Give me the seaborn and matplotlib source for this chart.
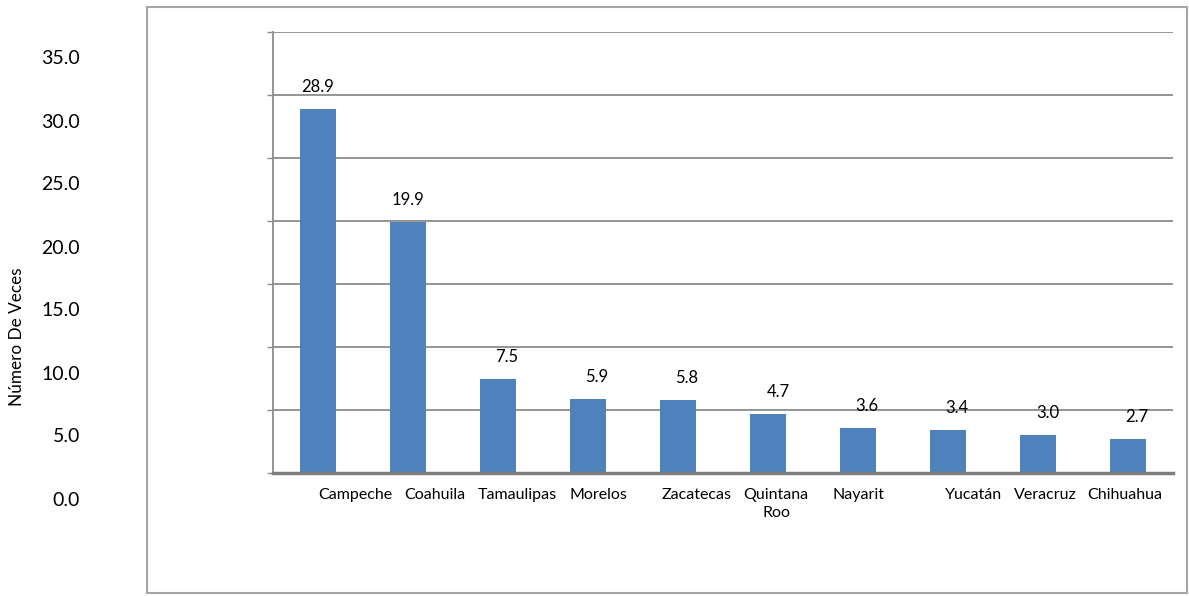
import matplotlib
matplotlib.use("Agg")
import matplotlib.pyplot as plt
from matplotlib.patches import Rectangle
import seaborn as sns
import pandas as pd

# Data
estados = ["Campeche", "Coahuila", "Tamaulipas", "Morelos", "Zacatecas",
           "Quintana\nRoo", "Nayarit", "Yucatán", "Veracruz", "Chihuahua"]
valores = [28.9, 19.9, 7.5, 5.9, 5.8, 4.7, 3.6, 3.4, 3.0, 2.7]
y_ticks = [0, 5, 10, 15, 20, 25, 30, 35]
y_tick_labels = ["0.0", "5.0", "10.0", "15.0", "20.0", "25.0", "30.0", "35.0"]
y_title = "Número De Veces"

# Horizontal nudges (pixels) for category names and value labels
name_dx = [37, 27, 19, 10, 19, 8, 1, 26, 7, -3]
value_dx = [0, 0, 9, 9, 9, 10, 9, 9, 10, 9]

sns.set_theme(style="white")
plt.rcParams["font.family"] = ["Lato", "DejaVu Sans"]

W, H, DPI = 1189, 596, 100
fig = plt.figure(figsize=(W / DPI, H / DPI), dpi=DPI)
fig.patch.set_facecolor("white")

# Plot area
left, right, top, bottom = 273, 1173, 32, 473
ax = fig.add_axes([left / W, 1 - bottom / H, (right - left) / W, (bottom - top) / H])

df = pd.DataFrame({"estado": estados, "valor": valores})
sns.barplot(data=df, x="estado", y="valor", color="#4F81BD", saturation=1,
            width=0.4, linewidth=0, ax=ax)

ax.set_ylim(0, 35)
ax.set_xlim(-0.5, len(estados) - 0.5)
ax.set_yticks(y_ticks)
ax.set_xlabel("")
ax.set_ylabel("")
ax.yaxis.grid(True, color="#8c8c8c", linewidth=1.3)
ax.set_axisbelow(True)
ax.tick_params(axis="y", length=4.5, width=1, color="#8c8c8c", direction="out",
               labelleft=False, left=True)
ax.tick_params(axis="x", length=0, labelbottom=False)

for side in ("top", "right"):
    ax.spines[side].set_visible(False)
ax.spines["left"].set_color("#8c8c8c")
ax.spines["left"].set_linewidth(1.3)
ax.spines["bottom"].set_color("#7f7f7f")
ax.spines["bottom"].set_linewidth(2.5)

# Value labels above bars
for i, v in enumerate(valores):
    ax.annotate(f"{v:.1f}", xy=(i, v), xytext=(value_dx[i], 22),
                textcoords="offset pixels", ha="center", va="center",
                fontsize=12, color="black")

# Category names under the axis
for i, name in enumerate(estados):
    ax.annotate(name, xy=(i, 0), xytext=(name_dx[i], -15),
                textcoords="offset pixels", ha="center", va="top",
                fontsize=11.5, color="black", linespacing=1.35,
                annotation_clip=False)

# Value axis labels, set to the left of the frame
for t, lab in zip(y_ticks, y_tick_labels):
    ax.annotate(lab, xy=(0, t), xycoords=("axes fraction", "data"),
                xytext=(-193, -27), textcoords="offset pixels",
                ha="right", va="center", fontsize=14, color="black",
                annotation_clip=False)

fig.text(17 / W, 1 - 337 / H, y_title, rotation=90, ha="center", va="center",
         fontsize=12.3, color="black")

# Outer chart frame
fig.patches.append(Rectangle((147 / W, 1 - 593 / H), (1187 - 147) / W, (593 - 7) / H,
                             transform=fig.transFigure, fill=False,
                             edgecolor="#a6a6a6", linewidth=1.5))

fig.savefig("out.png", dpi=DPI)
